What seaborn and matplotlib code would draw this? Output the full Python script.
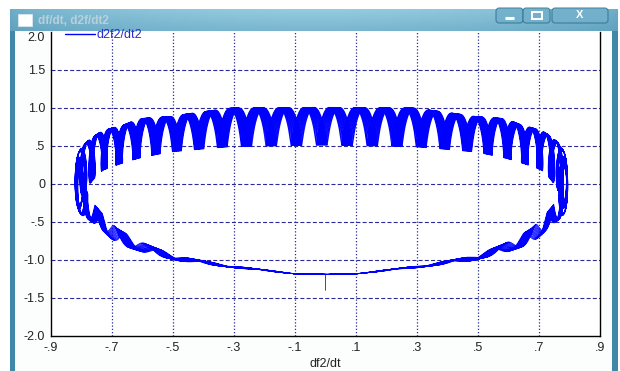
import numpy as np
import pandas as pd
import matplotlib
matplotlib.use("Agg")
import matplotlib.pyplot as plt
from matplotlib.patches import Rectangle, FancyBboxPatch
import seaborn as sns

# ---- axis ticks -----------------------------------------------------------
x_tick_values = [-0.9, -0.7, -0.5, -0.3, -0.1, 0.1, 0.3, 0.5, 0.7, 0.9]
x_tick_labels = ["-.9", "-.7", "-.5", "-.3", "-.1", ".1", ".3", ".5", ".7", ".9"]
y_tick_values = [-2.0, -1.5, -1.0, -0.5, 0.0, 0.5, 1.0, 1.5, 2.0]
y_tick_labels = ["-2.0", "-1.5", "-1.0", "-.5", "0", ".5", "1.0", "1.5", "2.0"]

# ---- orbit envelope, sampled at |df2/dt| on the upper and lower arcs ------
x_amplitude = 0.795
upper_abs_x = [0.0, 0.3, 0.5, 0.6, 0.65, 0.72, 0.795]
upper_mid = [0.76, 0.745, 0.655, 0.60, 0.53, 0.44, 0.01]
upper_amp = [0.25, 0.255, 0.235, 0.26, 0.25, 0.26, 0.35]
lower_abs_x = [0.0, 0.1, 0.3, 0.48, 0.585, 0.68, 0.74, 0.77, 0.795]
lower_mid = [-1.19, -1.18, -1.09, -0.98, -0.85, -0.68, -0.44, -0.32, 0.01]
lower_amp = [0.0, 0.003, 0.012, 0.03, 0.06, 0.10, 0.11, 0.15, 0.35]

# ripple: cycles per turn, upper/lower asymmetry, x/y aspect, number of turns
ripple_rate = 41.032
ripple_skew = 19.0
ripple_aspect = 0.04
n_turns = 14

# start-up transient
start_x = [0.0]
start_y = [-1.40]


def arc_angles(abs_x, upper):
    a = np.arccos(np.clip(np.asarray(abs_x) / x_amplitude, -1, 1))
    if upper:
        return np.concatenate([a, np.pi - a])
    return np.concatenate([np.pi + a, 2 * np.pi - a])


ang = np.concatenate([arc_angles(upper_abs_x, True), arc_angles(lower_abs_x, False)])
mid_v = np.concatenate([upper_mid, upper_mid, lower_mid, lower_mid])
amp_v = np.concatenate([upper_amp, upper_amp, lower_amp, lower_amp])
order = np.argsort(ang)
ang, mid_v, amp_v = ang[order], mid_v[order], amp_v[order]

phi = np.linspace(1.5 * np.pi, 1.5 * np.pi + 2 * np.pi * n_turns, 42000)
psi = ripple_rate * phi - ripple_skew * np.cos(phi)
psi = psi - psi[0]
amp = np.interp(phi, ang, amp_v, period=2 * np.pi)
dfdt = x_amplitude * np.cos(phi) + ripple_aspect * amp * (np.cos(psi) - 1.0)
d2fdt2 = np.interp(phi, ang, mid_v, period=2 * np.pi) + amp * np.sin(psi)

trace = pd.DataFrame({
    "df2/dt": np.concatenate([start_x, dfdt]),
    "d2f2/dt2": np.concatenate([start_y, d2fdt2]),
})

# ---- figure -----------------------------------------------------------------
sns.set_theme(style="white")
plt.rcParams["font.family"] = ["Liberation Sans", "DejaVu Sans"]

W, H = 620, 371
fig = plt.figure(figsize=(W / 100, H / 100), dpi=100, facecolor="white")

# window frame
bg = fig.add_axes([0, 0, 1, 1], zorder=-10)
bg.set_xlim(0, W)
bg.set_ylim(H, 0)
bg.axis("off")
bg.add_patch(Rectangle((10, 9), 608, 370, facecolor="#3f88a8", edgecolor="none"))
gx = np.linspace(0, 1, 300)
gy = np.linspace(0, 1, 30)
GX, GY = np.meshgrid(gx, gy)
light = np.array([0.58, 0.80, 0.88])
dark = np.array([0.28, 0.55, 0.68])
wgt = (0.5 + 0.5 * np.sin(np.pi * GX) ** 0.6) * (1.0 - 0.35 * GY)
grad = dark[None, None, :] + (light - dark)[None, None, :] * wgt[..., None]
bg.imshow(np.clip(grad, 0, 1), extent=[10, 618, 31, 9], aspect="auto", zorder=1)
bg.add_patch(Rectangle((15, 31), 597, 345, facecolor="#fcfefe", edgecolor="none", zorder=2))
bg.add_patch(Rectangle((18, 14), 14, 12, facecolor="white", edgecolor="#d8e8f0", lw=0.6, zorder=3))
bg.text(38, 20.5, "df/dt, d2f/dt2", color="#b8d0dc", fontsize=8.5, fontweight="bold",
        va="center", ha="left", zorder=3)
for x0, w in [(496, 27), (523, 27), (552, 56)]:
    bg.add_patch(FancyBboxPatch((x0, 8), w, 15, boxstyle="round,pad=0,rounding_size=3",
                                facecolor="#72b0cb", edgecolor="#2f6f8e", lw=0.7, alpha=0.9, zorder=3))
bg.plot([505, 514], [18, 18], color="white", lw=2.2, zorder=4, solid_capstyle="butt")
bg.add_patch(Rectangle((532, 12), 10, 7, facecolor="none", edgecolor="white", lw=1.4, zorder=4))
bg.text(580, 15.5, "X", color="white", fontsize=8, fontweight="bold", ha="center", va="center", zorder=4)

# plot area
ax = fig.add_axes([51 / W, 1 - 336 / H, (600 - 51) / W, (336 - 32) / H])
ax.set_facecolor("white")
line_color = "#0000ff"
sns.lineplot(data=trace, x="df2/dt", y="d2f2/dt2", sort=False, estimator=None,
             color=line_color, lw=0.55, ax=ax, label="d2f2/dt2")

ax.set_xlim(-0.9, 0.9)
ax.set_ylim(-2.0, 2.0)
ax.set_xticks(x_tick_values)
ax.set_xticklabels(x_tick_labels)
ax.set_yticks(y_tick_values)
ax.set_yticklabels(y_tick_labels)
ax.tick_params(axis="both", length=0, labelsize=9, labelcolor="#222222")
ax.tick_params(axis="x", pad=4)
ax.tick_params(axis="y", pad=4.3)
ax.yaxis.get_major_ticks()[-1].label1.set_verticalalignment("top")
ax.set_xlabel("df2/dt", fontsize=9, color="#222222", labelpad=3)
ax.set_ylabel("")

grid_color = "#2a2a98"
for yv in y_tick_values[1:-1]:
    ax.axhline(yv, color=grid_color, lw=0.8, dashes=(3.6, 2.0), zorder=0.5)
for xv in x_tick_values[1:-1]:
    ax.axvline(xv, color=grid_color, lw=0.9, dashes=(1.0, 1.6), zorder=0.5)

for side in ["left", "bottom", "right"]:
    ax.spines[side].set_color("black")
    ax.spines[side].set_linewidth(1.0)
ax.spines["top"].set_visible(False)

leg = ax.legend(loc="upper left", bbox_to_anchor=(0.026, 1.01), frameon=False,
                handlelength=2.4, handletextpad=0.1, borderpad=0, borderaxespad=0,
                fontsize=9)
for t in leg.get_texts():
    t.set_color("#2a2ad0")
for h in leg.legend_handles:
    h.set_linewidth(1.0)

fig.savefig("out.png", dpi=100, facecolor="white")
